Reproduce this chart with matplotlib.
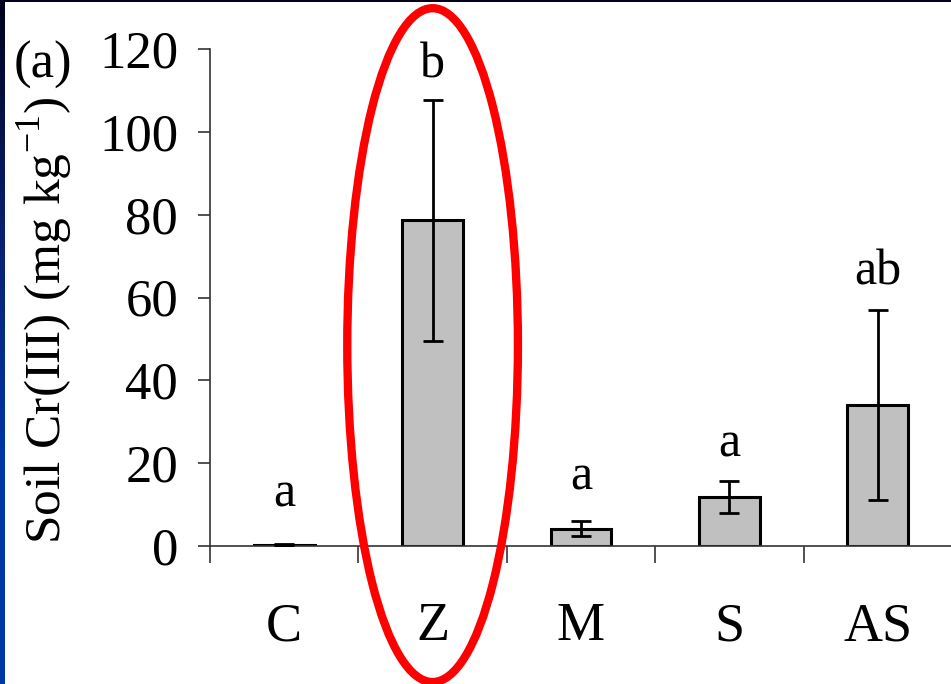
import numpy as np
import matplotlib.pyplot as plt
from matplotlib.patches import Ellipse
from matplotlib.colors import LinearSegmentedColormap

categories = ['C', 'Z', 'M', 'S', 'AS']
means = [0.2, 78.6, 4.2, 11.8, 34.0]
errors = [0.2, 29.0, 1.8, 3.8, 23.0]
letters = ['a', 'b', 'a', 'a', 'ab']
letter_y = [12.5, 116.0, 16.5, 24.5, 66.0]
yticks = [0, 20, 40, 60, 80, 100, 120]

plt.rcParams['font.family'] = ['Liberation Serif', 'DejaVu Serif']

fig = plt.figure(figsize=(9.51, 6.84), dpi=100)
fig.patch.set_facecolor('white')

# dark blue slide border on the left and top
strip = fig.add_axes([0, 0, 5 / 951, 1])
cmap = LinearSegmentedColormap.from_list('slide', ['#02021e', '#0a1f6e', '#0036a6', '#0038a8'])
strip.imshow(np.linspace(0, 1, 256).reshape(-1, 1), aspect='auto', cmap=cmap)
strip.axis('off')
top = fig.add_axes([0, 1 - 2 / 684, 1, 2 / 684])
top.axis('off')
top.add_patch(plt.Rectangle((0, 0), 1, 1, color='#02021e', transform=top.transAxes))

ax = fig.add_axes([210 / 951, 1 - 546 / 684, 742 / 951, 497 / 684])
x = np.arange(len(categories))
ax.bar(x, means, width=0.41, color='#c0c0c0', edgecolor='black', linewidth=2.2, zorder=2)
ax.errorbar(x, means, yerr=errors, fmt='none', ecolor='black', elinewidth=2.0,
            capsize=7.5, capthick=2.0, zorder=3)

for xi, lab, ly in zip(x, letters, letter_y):
    ax.text(xi, ly, lab, ha='center', va='center', fontsize=36)

ax.set_xlim(-0.5, 4.5)
ax.set_ylim(0, 120)
ax.set_yticks(yticks)
ax.set_yticklabels([str(v) for v in yticks], fontsize=38)
ax.set_xticks(x)
ax.set_xticklabels(categories, fontsize=39)
ax.set_xticks(np.arange(-0.5, 4.5, 1.0), minor=True)
ax.tick_params(axis='x', which='major', length=0, pad=40)
ax.tick_params(axis='x', which='minor', length=12, width=1.2, direction='out', color='#333333')
ax.tick_params(axis='y', length=9, width=1.2, direction='out', pad=14, color='#333333')

for side in ['top', 'right']:
    ax.spines[side].set_visible(False)
for side in ['left', 'bottom']:
    ax.spines[side].set_linewidth(1.2)
    ax.spines[side].set_color('#333333')

ax.set_ylabel('Soil Cr(III) (mg kg$^{\\mathregular{-1}}$)', fontsize=37)
ax.yaxis.set_label_coords(-0.182, 0.455)

fig.text(43 / 951, 1 - 65 / 684, '(a)', fontsize=38, ha='center', va='center')

# red highlight around Z
ax.add_patch(Ellipse((1, 48.5), 1.15, 162.7, fill=False, edgecolor='#ff0000',
                     linewidth=6, clip_on=False, zorder=4))

fig.savefig('out.png', dpi=100)
